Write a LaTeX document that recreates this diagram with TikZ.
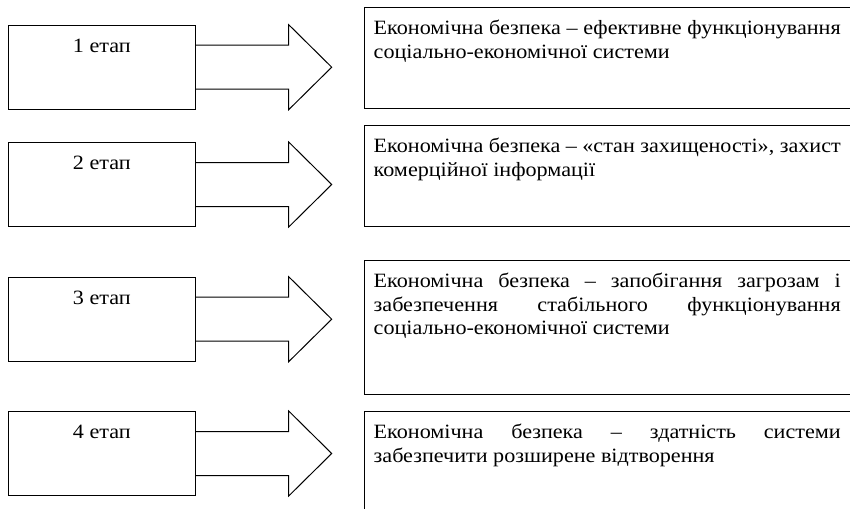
\documentclass[tikz,border=0pt]{standalone}
\usepackage{fontspec}
\setmainfont{Liberation Serif}[FakeStretch=1.09]
\usetikzlibrary{calc}
\newcommand{\diagfont}{\fontsize{20.3}{23.3}\selectfont}
\begin{document}
\begin{tikzpicture}[x=1pt,y=-1pt,
  every node/.style={font=\diagfont},
  stagebox/.style={draw, line width=1pt, minimum width=186.7pt, minimum height=84pt,
                   inner sep=0pt, anchor=north west},
  defbox/.style={draw, line width=1pt, minimum width=500pt, inner sep=0pt, anchor=north west},
  stagelabel/.style={inner sep=0pt, anchor=base},
  deftext/.style={inner sep=0pt, anchor=base west},
  blockarrow/.style={draw, line width=1pt, line join=miter}
]
\useasboundingbox (0,0) rectangle (850,508);
\clip (0,0) rectangle (850,508);

% stage number, top of stage box, top of definition box, height of definition box, definition
\foreach \n/\st/\dt/\dh/\txt in {
  1/24.7/7.3/101/{Економічна безпека – ефективне функціонування\linebreak соціально-економічної системи},
  2/142/125/101/{Економічна безпека – «стан захищеності», захист\linebreak комерційної інформації},
  3/276.7/260/134.3/{Економічна безпека – запобігання загрозам і\linebreak забезпечення стабільного функціонування\linebreak соціально-економічної системи},
  4/411/411/130/{Економічна безпека – здатність системи\linebreak забезпечити розширене відтворення}}
{
  \node[stagebox] (s\n) at (8,\st) {};
  \node[stagelabel] (l\n) at ($(s\n.north)+(0,27.7)$) {\n\ етап};
  \node[defbox, minimum height=\dh pt] (d\n) at (364.3,\dt) {};
  \node[deftext] (t\n) at ($(d\n.north west)+(9.2,27.7)$)
    {\parbox[t]{467pt}{\diagfont\hyphenpenalty=10000\tolerance=10000\txt}};
  % block arrow from the stage box towards its definition
  \draw[blockarrow]
    ($(s\n.north east)+(0,20.5)$) -- ($(s\n.north east)+(93,20.5)$)
    -- ($(s\n.north east)+(93,0)$) -- ($(s\n.east)+(136,0)$)
    -- ($(s\n.south east)+(93,0)$) -- ($(s\n.south east)+(93,-20.5)$)
    -- ($(s\n.south east)+(0,-20.5)$);
}
\end{tikzpicture}
\end{document}
